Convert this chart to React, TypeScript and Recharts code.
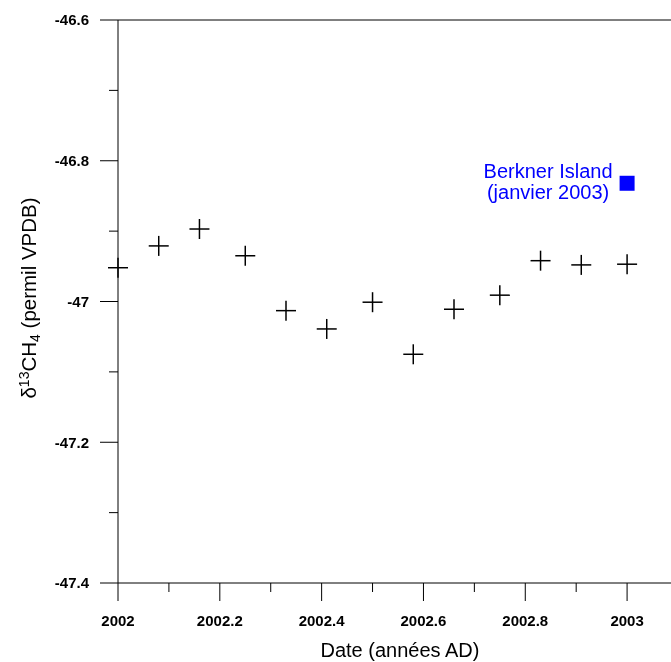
import { ScatterChart, Scatter, XAxis, YAxis } from 'recharts';

// monthly δ13CH4 values, 2002
const dates = [2002, 2002.08, 2002.16, 2002.25, 2002.33, 2002.41, 2002.5, 2002.58, 2002.66, 2002.75, 2002.83, 2002.91, 2003];
const d13ch4 = [-46.952, -46.921, -46.897, -46.935, -47.013, -47.039, -47.001, -47.075, -47.011, -46.991, -46.942, -46.948, -46.947];

const berknerDate = [2003];
const berknerValue = [-46.832];

const xTicks = [2002, 2002.1, 2002.2, 2002.3, 2002.4, 2002.5, 2002.6, 2002.7, 2002.8, 2002.9, 2003, 2003.1];
const yTicks = [-47.4, -47.3, -47.2, -47.1, -47, -46.9, -46.8, -46.7, -46.6];
const rightTicks = [0, 0.5, 1, 1.5, 2, 2.5, 3, 3.5, 4, 4.5, 5, 5.5, 6];

const FONT = '"Liberation Sans", Arial, sans-serif';

const mainData = dates.map((d, i) => ({ x: d, y: d13ch4[i] }));
const berknerData = berknerDate.map((d, i) => ({ x: d, y: berknerValue[i] }));

const isMajor = (v: number) => Math.round(v * 10) % 2 === 0;
const fmt = (v: number) => String(Number(v.toFixed(1)));

const BottomTick = ({ x, y, payload }: any) => {
  const major = isMajor(payload.value);
  return (
    <g>
      <line x1={x} x2={x} y1={y} y2={y + (major ? 18 : 9)} stroke="#000" />
      {major && (
        <text x={x} y={y + 42.5} textAnchor="middle" fontFamily={FONT} fontWeight="bold" fontSize={15} fill="#000">
          {fmt(payload.value)}
        </text>
      )}
    </g>
  );
};

const TopTick = ({ x, y, payload }: any) => {
  const major = isMajor(payload.value);
  return <line x1={x} x2={x} y1={y} y2={y + (major ? 19 : 10)} stroke="#000" />;
};

const LeftTick = ({ x, y, payload }: any) => {
  const major = isMajor(Math.abs(payload.value));
  return (
    <g>
      <line x1={x} x2={x - (major ? 18 : 9)} y1={y} y2={y} stroke="#000" />
      {major && (
        <text x={x - 29} y={y + 5.4} textAnchor="end" fontFamily={FONT} fontWeight="bold" fontSize={15} fill="#000">
          {fmt(payload.value)}
        </text>
      )}
    </g>
  );
};

const RightTick = ({ x, y, payload }: any) => {
  const major = Number.isInteger(payload.value);
  return <line x1={x} x2={x - (major ? 19 : 9)} y1={y} y2={y} stroke="#000" />;
};

const Cross = ({ cx, cy }: any) => (
  <g>
    <line x1={cx - 10} x2={cx + 10} y1={cy} y2={cy} stroke="#000" strokeWidth={1.5} />
    <line x1={cx} x2={cx} y1={cy - 10} y2={cy + 10} stroke="#000" strokeWidth={1.5} />
  </g>
);

const BerknerMark = ({ cx, cy }: any) => (
  <g>
    <rect x={cx - 7.5} y={cy - 7.5} width={15} height={15} fill="#0000ff" />
    <text textAnchor="middle" fontFamily={FONT} fontSize={20} fill="#0000ff">
      <tspan x={cx - 79} y={cy - 5}>Berkner Island</tspan>
      <tspan x={cx - 79} y={cy + 16}>(janvier 2003)</tspan>
    </text>
  </g>
);

export default function App() {
  // fixed so the chart can fill the whole page without making it scroll
  return (
    <div style={{ position: 'fixed', top: 0, left: 0, width: 671, height: 662, overflow: 'hidden' }}>
      <ScatterChart width={671} height={662} margin={{ top: 0, right: -27, left: 0, bottom: 0 }}>
        <XAxis
          dataKey="x"
          type="number"
          domain={[2002, 2003.1]}
          ticks={xTicks}
          interval={0}
          height={79}
          tickSize={0}
          tickMargin={0}
          tickLine={false}
          tick={<BottomTick />}
          axisLine={{ stroke: '#000' }}
        />
        <XAxis
          xAxisId="top"
          orientation="top"
          type="number"
          domain={[2002, 2003.1]}
          ticks={xTicks}
          interval={0}
          height={20}
          tickSize={0}
          tickMargin={0}
          tickLine={false}
          tick={<TopTick />}
          axisLine={{ stroke: '#000' }}
        />
        <YAxis
          dataKey="y"
          type="number"
          domain={[-47.4, -46.6]}
          ticks={yTicks}
          interval={0}
          width={118}
          tickSize={0}
          tickMargin={0}
          tickLine={false}
          tick={<LeftTick />}
          axisLine={{ stroke: '#000' }}
        />
        <YAxis
          yAxisId="right"
          orientation="right"
          type="number"
          domain={[0, 6]}
          ticks={rightTicks}
          interval={0}
          width={20}
          tickSize={0}
          tickMargin={0}
          tickLine={false}
          tick={<RightTick />}
          axisLine={{ stroke: '#000' }}
        />
        <Scatter data={mainData} shape={<Cross />} isAnimationActive={false} />
        <Scatter data={berknerData} shape={<BerknerMark />} isAnimationActive={false} />
        <text x={400} y={657} textAnchor="middle" fontFamily={FONT} fontSize={20} fill="#000">
          Date (années AD)
        </text>
        <text x={36} y={298} transform="rotate(-90, 36, 298)" textAnchor="middle" fontFamily={FONT} fontSize={20.5} fill="#000">
          δ
          <tspan fontSize={14} dy={-7}>13</tspan>
          <tspan dy={7}>CH</tspan>
          <tspan fontSize={14} dy={4}>4</tspan>
          <tspan dy={-4}> (permil VPDB)</tspan>
        </text>
      </ScatterChart>
    </div>
  );
}
